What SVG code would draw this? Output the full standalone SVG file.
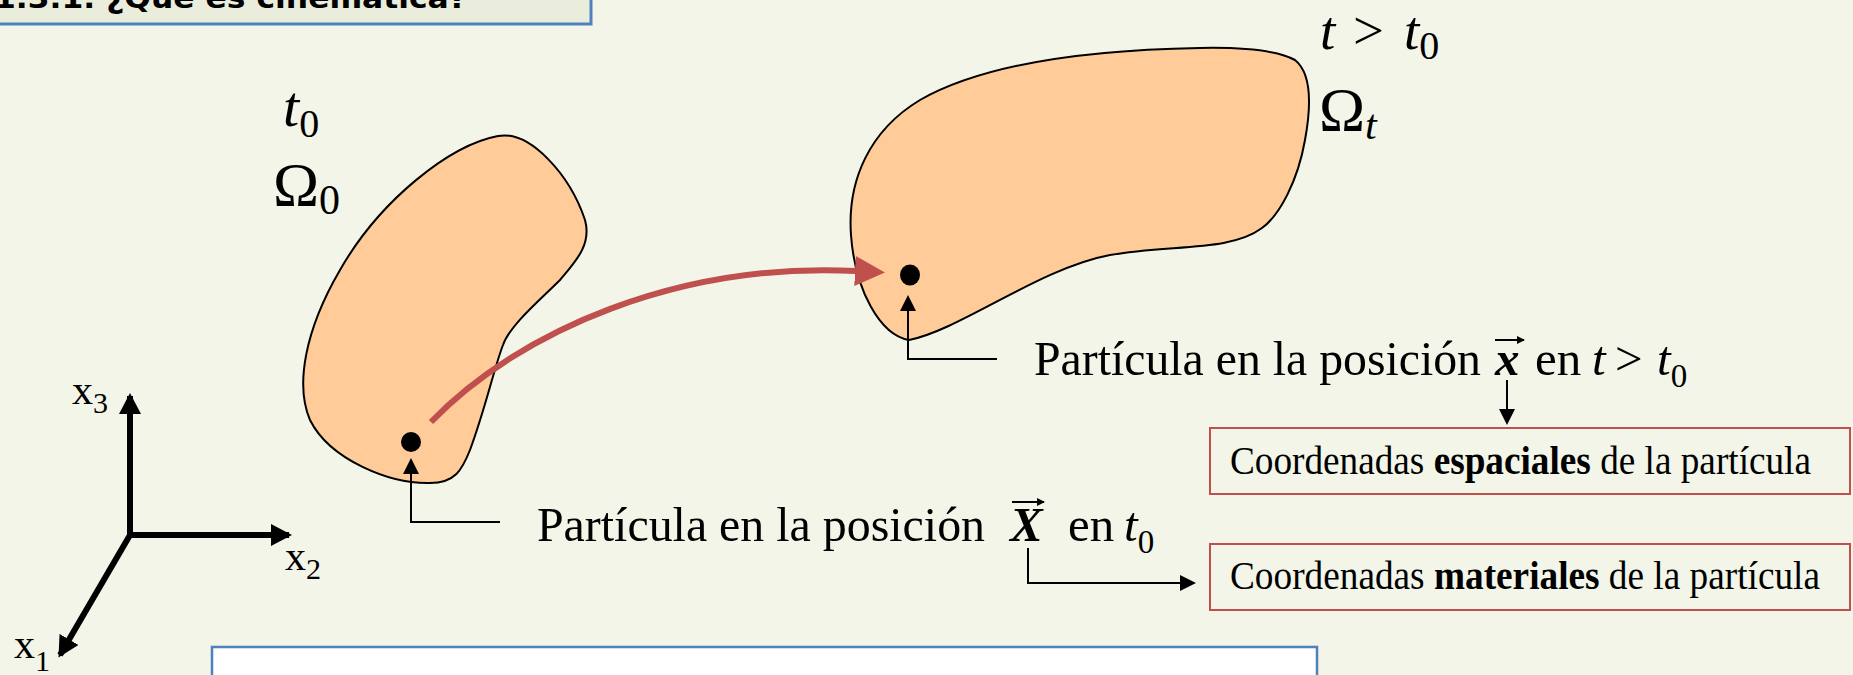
<svg xmlns="http://www.w3.org/2000/svg" width="1853" height="675" viewBox="0 0 1853 675">
  <style>
    .serif { font-family: "Liberation Serif", "Times New Roman", serif; fill: #000; }
    .it { font-style: italic; }
    .bi { font-style: italic; font-weight: bold; }
    .body { fill: #ffcc99; stroke: #000; stroke-width: 2; }
    .conn { fill: none; stroke: #000; stroke-width: 2; }
    .axis { fill: none; stroke: #000; stroke-width: 6; }
    .redbox { fill: #f2f5e8; stroke: #c0504d; stroke-width: 2; }
  </style>
  <defs>
    <marker id="ah" markerUnits="userSpaceOnUse" markerWidth="16" markerHeight="18" refX="14" refY="8" orient="auto">
      <path d="M0,0 L16,8 L0,16 Z" fill="#000"/>
    </marker>
    <marker id="ahs" markerUnits="userSpaceOnUse" markerWidth="8" markerHeight="8" refX="7" refY="4" orient="auto">
      <path d="M0,0 L8,4 L0,8 Z" fill="#000"/>
    </marker>
    <marker id="aha" markerUnits="userSpaceOnUse" markerWidth="22" markerHeight="22" refX="18" refY="11" orient="auto">
      <path d="M0,0 L21,11 L0,22 Z" fill="#000"/>
    </marker>
    <marker id="ahr" markerUnits="userSpaceOnUse" markerWidth="32" markerHeight="32" refX="1" refY="15" orient="auto">
      <path d="M0,0 L30,15 L0,30 Z" fill="#c0504d"/>
    </marker>
  </defs>

  <rect x="0" y="0" width="1853" height="675" fill="#f2f5e8"/>

  <g id="header">
    <rect x="-10" y="-20" width="601" height="44" fill="#eaeddc" stroke="#4f81bd" stroke-width="3"/>
    <text x="-6" y="8" font-family="'DejaVu Sans', 'Liberation Sans', sans-serif" font-weight="bold" font-size="28" textLength="473" lengthAdjust="spacingAndGlyphs">1.3.1. ¿Qué es cinemática?</text>
  </g>

  <g id="body0">
    <path class="body" d="M498,136 C530,130 570,175 585,220 C592,245 575,262 560,280 C540,300 510,325 503,345 C495,365 485,410 470,450 C462,470 455,483 430,483 C390,484 330,460 310,420 C295,385 305,330 340,270 C380,200 450,145 498,136 Z"/>
    <circle cx="411" cy="442" r="10" fill="#000"/>
    <text class="serif it" x="283" y="126" font-size="58">t<tspan font-style="normal" font-size="40" dy="11">0</tspan></text>
    <text class="serif" x="273" y="205" font-size="62">Ω<tspan font-size="42" dy="9">0</tspan></text>
  </g>

  <g id="bodyT">
    <path class="body" d="M909,340 C880,335 855,290 851,235 C847,180 870,130 920,100 C980,66 1080,50 1200,48 C1250,47 1280,52 1295,60 C1310,72 1312,102 1305,140 C1298,180 1280,215 1262,228 C1230,252 1170,244 1110,255 C1040,268 960,330 909,340 Z"/>
    <ellipse cx="910" cy="275" rx="10" ry="10.5" fill="#000"/>
    <text class="serif it" x="1320" y="49" font-size="55">t</text>
    <text class="serif" x="1353" y="49" font-size="55">&gt;</text>
    <text class="serif it" x="1404" y="49" font-size="55">t<tspan font-style="normal" font-size="40" dy="10">0</tspan></text>
    <text class="serif" x="1319" y="130" font-size="62">Ω<tspan class="it" font-size="42" dy="9">t</tspan></text>
  </g>

  <g id="axes">
    <line class="axis" x1="130" y1="538" x2="130" y2="396" marker-end="url(#aha)"/>
    <line class="axis" x1="127" y1="535" x2="289" y2="535" marker-end="url(#aha)"/>
    <line class="axis" x1="130" y1="535" x2="60" y2="655" marker-end="url(#aha)"/>
    <text class="serif" x="72" y="404" font-size="42">x<tspan font-size="30" dy="9">3</tspan></text>
    <text class="serif" x="285" y="570" font-size="42">x<tspan font-size="30" dy="9">2</tspan></text>
    <text class="serif" x="14" y="658" font-size="42">x<tspan font-size="30" dy="13">1</tspan></text>
  </g>

  <g id="label-material">
    <text class="serif" x="537" y="541" font-size="49" textLength="448" lengthAdjust="spacingAndGlyphs">Partícula en la posición</text>
    <text class="serif bi" x="1010" y="541" font-size="49">X</text>
    <line x1="1012" y1="502" x2="1044" y2="502" stroke="#000" stroke-width="2" marker-end="url(#ahs)"/>
    <text class="serif" x="1068" y="541" font-size="49">en</text>
    <text class="serif it" x="1124" y="541" font-size="49">t<tspan font-style="normal" font-size="33" dy="12">0</tspan></text>
  </g>

  <g id="label-spatial">
    <text class="serif" x="1034" y="375" font-size="49" textLength="447" lengthAdjust="spacingAndGlyphs">Partícula en la posición</text>
    <text class="serif bi" x="1495" y="375" font-size="49">x</text>
    <line x1="1495" y1="340" x2="1524" y2="340" stroke="#000" stroke-width="2" marker-end="url(#ahs)"/>
    <text class="serif" x="1535" y="375" font-size="49">en</text>
    <text class="serif it" x="1592" y="375" font-size="49">t</text>
    <text class="serif" x="1615" y="375" font-size="49">&gt;</text>
    <text class="serif it" x="1657" y="375" font-size="49">t<tspan font-style="normal" font-size="33" dy="12">0</tspan></text>
  </g>

  <g id="box-spatial">
    <rect class="redbox" x="1210" y="428" width="640" height="66"/>
    <text class="serif" x="1230" y="474" font-size="40" textLength="581" lengthAdjust="spacingAndGlyphs">Coordenadas <tspan font-weight="bold">espaciales</tspan> de la partícula</text>
  </g>

  <g id="box-material">
    <rect class="redbox" x="1210" y="544" width="640" height="66"/>
    <text class="serif" x="1230" y="589" font-size="40" textLength="590" lengthAdjust="spacingAndGlyphs">Coordenadas <tspan font-weight="bold">materiales</tspan> de la partícula</text>
  </g>

  <g id="bottom-box">
    <rect x="212" y="647" width="1105" height="60" fill="#ffffff" stroke="#4f81bd" stroke-width="2.5"/>
  </g>

  <g id="connectors">
    <path d="M431,422 C520,330 680,262 856,271" fill="none" stroke="#c0504d" stroke-width="6" marker-end="url(#ahr)"/>
    <polyline class="conn" points="500,522 411,522 411,460" marker-end="url(#ah)"/>
    <polyline class="conn" points="997,359 908,359 908,297" marker-end="url(#ah)"/>
    <line class="conn" x1="1507" y1="380" x2="1507" y2="423" marker-end="url(#ah)"/>
    <polyline class="conn" points="1028,548 1028,583 1194,583" marker-end="url(#ah)"/>
  </g>
</svg>
